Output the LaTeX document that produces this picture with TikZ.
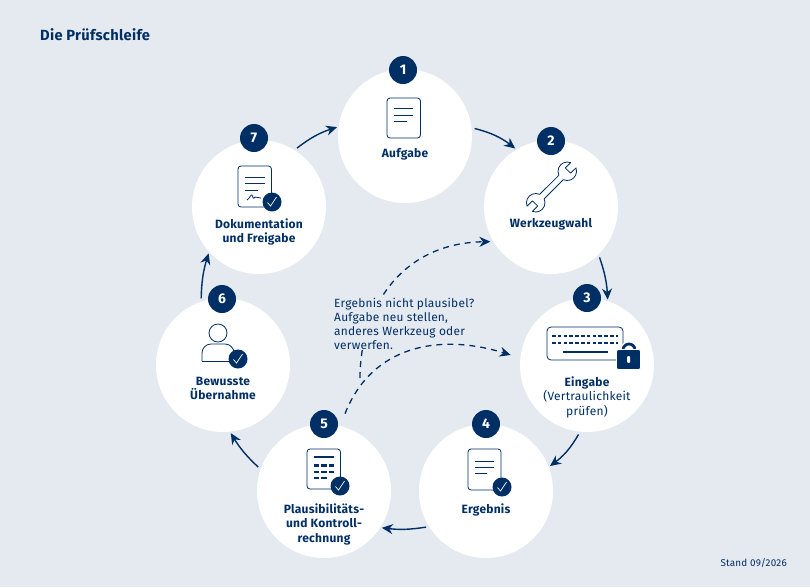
\documentclass[tikz,border=0pt]{standalone}
\usepackage{fontspec}
\setmainfont[LetterSpace=2]{Fira Sans}
\usetikzlibrary{positioning,arrows.meta}
\definecolor{bgblue}{HTML}{E5EAF0}
\definecolor{navy}{HTML}{002F66}
\tikzset{
	stepcircle/.style={circle, fill=white, minimum size=134pt, inner sep=0pt},
	numbadge/.style={circle, fill=navy, text=white, minimum size=28pt, inner sep=0pt, font=\fontsize{14}{14}\selectfont\bfseries},
	steplabel/.style={text=navy, align=center, inner sep=0pt, font=\fontsize{12}{14.3}\selectfont\bfseries},
	flow/.style={-{Stealth[length=11pt,width=10pt]}, navy, line width=1.4pt, shorten <=3pt, shorten >=1.5pt},
	backflow/.style={-{Stealth[length=11pt,width=10pt]}, navy, line width=1.3pt, dash pattern=on 6pt off 5pt},
	iconline/.style={navy, line width=0.8pt},
	iconbar/.style={navy, line width=2pt},
	tickbadge/.style={circle, fill=navy, minimum size=19pt, inner sep=0pt}
}
% badge with white tick
\newcommand{\tickat}[2]{\draw[white, line width=0.7pt] (#1-4.5,#2+0.5) -- (#1-1.5,#2+4) -- (#1+4.5,#2-5);}
\begin{document}
\begin{tikzpicture}[x=1pt,y=-1pt]
	\useasboundingbox[fill=bgblue] (0,0) rectangle (810,587);
	\node[right, inner sep=0pt, text=navy, font=\fontsize{14.7}{16}\selectfont\bfseries] (title) at (40,35) {Die Prüfschleife};
	\node[left, inner sep=0pt, text=navy, font=\fontsize{9.9}{11}\selectfont] (stand) at (787,563) {Stand 09/2026};
	% circles
	\node[stepcircle] (c1) at (405,136) {};
	\node[stepcircle] (c2) at (551,207) {};
	\node[stepcircle] (c3) at (587,365) {};
	\node[stepcircle] (c4) at (486,491) {};
	\node[stepcircle] (c5) at (324,491) {};
	\node[stepcircle] (c6) at (223,365) {};
	\node[stepcircle] (c7) at (259,207) {};
	% cycle
	\draw[flow] (c1.7) to[bend left=12] (c2.121);
	\draw[flow] (c2.-45) to[bend left=8] (c3.72);
	\draw[flow] (c3.-96) to[bend left=12] (c4.21);
	\draw[flow] (c4.212) to[bend left=8] (c5.-33);
	\draw[flow] (c5.161) to[bend left=8] (c6.-84);
	\draw[flow] (c6.109) to[bend left=8] (c7.222);
	\draw[flow] (c7.58) to[bend left=10] (c1.172);
	% dashed return
	\coordinate (branch) at (360,378);
	\draw[backflow, shorten >=3pt] (branch) .. controls (360,310) and (400,243) .. (c2.211);
	\node[right, inner sep=1pt, fill=bgblue, text=navy, align=left, font=\fontsize{11.9}{14}\selectfont] (note) at (333,323.5) {Ergebnis nicht plausibel?\\Aufgabe neu stellen,\\anderes Werkzeug oder\\verwerfen.};
	\draw[backflow, shorten <=13pt, shorten >=10pt] (c5.76) .. controls (372,345) and (440,333) .. (c3.174);
	% badges
	\node[numbadge] (n1) at (403,70) {1};
	\node[numbadge] (n2) at (551,141) {2};
	\node[numbadge] (n3) at (587,298) {3};
	\node[numbadge] (n4) at (486,424) {4};
	\node[numbadge] (n5) at (324,424) {5};
	\node[numbadge] (n6) at (222,299) {6};
	\node[numbadge] (n7) at (254,138) {7};
	% labels
	\node[steplabel] (t1) at (405,154) {Aufgabe};
	\node[steplabel] (t2) at (551,224) {Werkzeugwahl};
	\node[steplabel, anchor=north] (t3) at (587,376.5) {Eingabe\\\mdseries(Vertraulichkeit\\\mdseries prüfen)};
	\node[steplabel] (t4) at (486,509.5) {Ergebnis};
	\node[steplabel, anchor=north] (t5) at (324,503.5) {Plausibilitäts-\\und Kontroll-\\rechnung};
	\node[steplabel, anchor=north] (t6) at (223,377) {Bewusste\\Übernahme};
	\node[steplabel, anchor=north] (t7) at (259,218.5) {Dokumentation\\und Freigabe};
	% icon 1: page
	\draw[iconline, rounded corners=3pt] (387,98) rectangle (420.5,138);
	\draw[iconline] (394,108) -- (413,108) (394,115) -- (413,115) (394,121) -- (406.5,121);
	% icon 2: wrench
	\begin{scope}[shift={(551.5,187)}, rotate=45, scale=0.93]
		\draw[iconline, line join=round] (-14.6,3.4) -- (14.6,3.4) arc (160:24:10) -- (25,4) -- (25,-4) -- (33.1,-4) arc (-24:-160:10) -- (-14.6,-3.4) arc (-20:-156:10) -- (-25,-4) -- (-25,4) -- (-33.1,4) arc (156:20:10) -- cycle;
	\end{scope}
	% icon 3: keyboard and lock
	\draw[iconline, rounded corners=4pt] (547,327) rectangle (623,360);
	\draw[navy, line width=2.2pt, dash pattern=on 3.6pt off 2.2pt] (552,336) -- (618,336) (552,343) -- (618,343);
	\draw[iconbar] (563,352) -- (608,352);
	\draw[white, line width=5.5pt] (623,350) arc (180:360:6);
	\draw[navy, line width=2.8pt] (623,350) arc (180:360:6);
	\node[draw=white, fill=navy, rounded corners=2pt, minimum width=24pt, minimum height=20pt, inner sep=0pt, line width=0.8pt] (lock) at (628.5,359.5) {};
	\node[fill=white, rounded corners=1pt, minimum width=3pt, minimum height=7pt, inner sep=0pt] (keyhole) at (lock) {};
	% icon 4: page with tick
	\draw[iconline, rounded corners=3pt] (468,449) rectangle (501,490);
	\draw[iconline] (474.5,461) -- (494,461) (474.5,467) -- (494,467) (474.5,473) -- (487,473);
	\node[tickbadge] (tb4) at (502,487) {};
	\tickat{502}{487}
	% icon 5: calculator with tick
	\draw[iconline, rounded corners=3pt] (307,449) rectangle (340.5,489);
	\draw[iconbar] (314,457) -- (334,457);
	\draw[navy, line width=2.2pt, dash pattern=on 5.5pt off 2.2pt] (313.5,465.5) -- (334.5,465.5) (313.5,472) -- (334.5,472) (313.5,478) -- (327,478);
	\node[tickbadge] (tb5) at (340,486) {};
	\tickat{340}{486}
	% icon 6: person with tick
	\draw[iconline] (218,333) circle (9);
	\draw[iconline, rounded corners=9pt] (202,361) -- (202,344) -- (234,344) -- (234,361);
	\draw[iconline] (202,361) -- (234,361);
	\node[tickbadge] (tb6) at (238,359) {};
	\tickat{238}{359}
	% icon 7: signed page with tick
	\draw[iconline, rounded corners=3pt] (238,166) rectangle (271.5,207);
	\draw[iconline] (245,177) -- (265,177) (245,183) -- (265,183) (245,190) -- (258,190);
	\draw[iconline] (247,200) .. controls (250,198) and (251,194) .. (252,195) .. controls (253,197) and (253,200) .. (255,197) .. controls (257,196) and (258,199) .. (261,198);
	\node[tickbadge] (tb7) at (272,202) {};
	\tickat{272}{202}
\end{tikzpicture}
\end{document}
